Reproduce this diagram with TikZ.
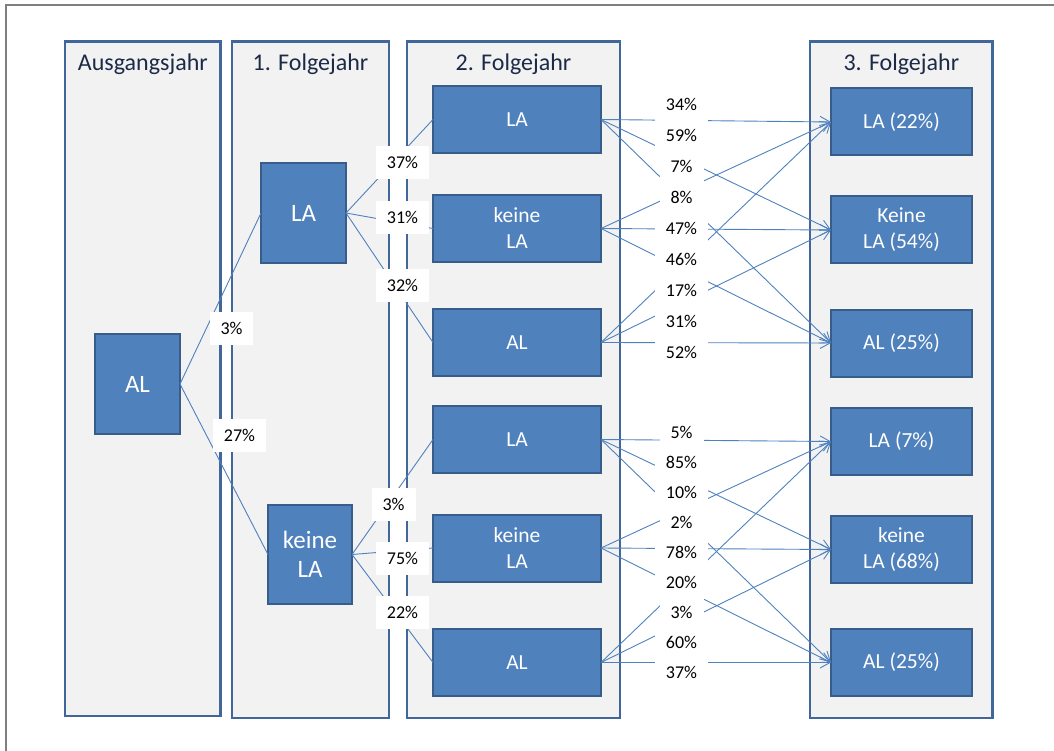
\documentclass[tikz,border=0pt]{standalone}
\usepackage{fontspec}
\setmainfont{Carlito}
\usetikzlibrary{arrows.meta}
\definecolor{panelfill}{HTML}{F2F2F2}
\definecolor{panelline}{HTML}{41669A}
\definecolor{boxfill}{HTML}{4F81BD}
\definecolor{boxline}{HTML}{385D8A}
\definecolor{titlecol}{HTML}{1B2A47}
\definecolor{framecol}{HTML}{7F7F7F}
\begin{document}
\begin{tikzpicture}[x=1pt,y=-1pt,
  panel/.style={draw=panelline, fill=panelfill, line width=2.5pt, inner sep=0pt, outer sep=0pt},
  state/.style={draw=boxline, fill=boxfill, line width=2pt, text=white,
    font=\fontsize{21.5}{26}\selectfont, align=center, inner sep=0pt, outer sep=0pt},
  bigstate/.style={state, font=\fontsize{25}{29}\selectfont, minimum width=85pt, minimum height=100pt},
  midstate/.style={state, minimum width=168pt, minimum height=67pt},
  endstate/.style={state, minimum width=141pt, minimum height=67pt},
  title/.style={anchor=base, text=titlecol, font=\fontsize{24}{28}\selectfont, inner sep=0pt},
  link/.style={draw=boxfill, line width=0.9pt},
  flow/.style={link, -{Straight Barb[length=10pt,width=11pt,line width=0.9pt]}},
  pct/.style={fill=white, text=black, font=\fontsize{18}{20}\selectfont,
    inner xsep=11pt, inner ysep=0pt, minimum height=33pt}
]
\useasboundingbox (0,0) rectangle (1054,751);
% outer frame
\draw[framecol, line width=1.2pt] (6,751) -- (6,5) -- (1054,5);

% panels
\node[panel, minimum width=155.7pt, minimum height=674.3pt] (p0) at (142.85,378.85) {};
\node[panel, minimum width=157pt, minimum height=676.3pt] (p1) at (310.5,379.85) {};
\node[panel, minimum width=213pt, minimum height=676.3pt] (p2) at (513.5,379.85) {};
\node[panel, minimum width=182.7pt, minimum height=676.3pt] (p3) at (901.35,379.85) {};

\node[title] (t0) at (142.85,71) {Ausgangsjahr};
\node[title] (t1) at (310.5,71) {1. Folgejahr};
\node[title] (t2) at (513.5,71) {2. Folgejahr};
\node[title] (t3) at (901.35,71) {3. Folgejahr};

% states
\node[bigstate] (a0) at (137.5,384) {AL};
\node[bigstate] (b1) at (303.5,213) {LA};
\node[bigstate, minimum width=84pt, minimum height=99pt] (b2) at (310,554.5) {keine\\LA};

\node[midstate] (c1) at (517,119.5) {LA};
\node[midstate] (c2) at (517,228.5) {keine\\LA};
\node[midstate] (c3) at (517,342.5) {AL};
\node[midstate] (c4) at (517,439.5) {LA};
\node[midstate] (c5) at (517,548) {keine\\LA};
\node[midstate] (c6) at (517,662.5) {AL};

\node[endstate] (d1) at (901.5,122) {LA (22\%)};
\node[endstate] (d2) at (901.5,230) {Keine\\LA (54\%)};
\node[endstate] (d3) at (901.5,343) {AL (25\%)};
\node[endstate] (d4) at (901.5,441.5) {LA (7\%)};
\node[endstate] (d5) at (901.5,549.5) {keine\\LA (68\%)};
\node[endstate] (d6) at (901.5,662.5) {AL (25\%)};

% connectors
\draw[link] (a0.east) -- (b1.west);
\draw[link] (a0.east) -- (b2.west);
\draw[link] (b1.east) -- (c1.west);
\draw[link] (b1.east) -- (c2.west);
\draw[link] (b1.east) -- (c3.west);
\draw[link] (b2.east) -- (c4.west);
\draw[link] (b2.east) -- (c5.west);
\draw[link] (b2.east) -- (c6.west);

\foreach \s/\t in {c1/d1,c1/d2,c1/d3,c2/d1,c2/d2,c2/d3,c3/d1,c3/d2,c3/d3,
                   c4/d4,c4/d5,c4/d6,c5/d4,c5/d5,c5/d6,c6/d4,c6/d5,c6/d6}
  \draw[flow] (\s.east) -- (\t.west);

% labels
\node[pct] (l01) at (231.5,328) {3\%};
\node[pct] (l02) at (239.5,435.5) {27\%};
\node[pct] (l11) at (402.5,162.5) {37\%};
\node[pct] (l12) at (402.5,217.5) {31\%};
\node[pct] (l13) at (402.5,285.5) {32\%};
\node[pct] (l21) at (393.5,504.5) {3\%};
\node[pct] (l22) at (402.5,558) {75\%};
\node[pct] (l23) at (402.5,612.5) {22\%};

\node[pct] (r01) at (681.5,104) {34\%};
\node[pct] (r02) at (681.5,135) {59\%};
\node[pct] (r03) at (681.5,166) {7\%};
\node[pct] (r04) at (681.5,197) {8\%};
\node[pct] (r05) at (681.5,228) {47\%};
\node[pct] (r06) at (681.5,259) {46\%};
\node[pct] (r07) at (681.5,290) {17\%};
\node[pct] (r08) at (681.5,321) {31\%};
\node[pct] (r09) at (681.5,352) {52\%};

\node[pct] (r11) at (681.5,432) {5\%};
\node[pct] (r12) at (681.5,462) {85\%};
\node[pct] (r13) at (681.5,492) {10\%};
\node[pct] (r14) at (681.5,522) {2\%};
\node[pct] (r15) at (681.5,552) {78\%};
\node[pct] (r16) at (681.5,582) {20\%};
\node[pct] (r17) at (681.5,612) {3\%};
\node[pct] (r18) at (681.5,642) {60\%};
\node[pct] (r19) at (681.5,672) {37\%};
\end{tikzpicture}
\end{document}
